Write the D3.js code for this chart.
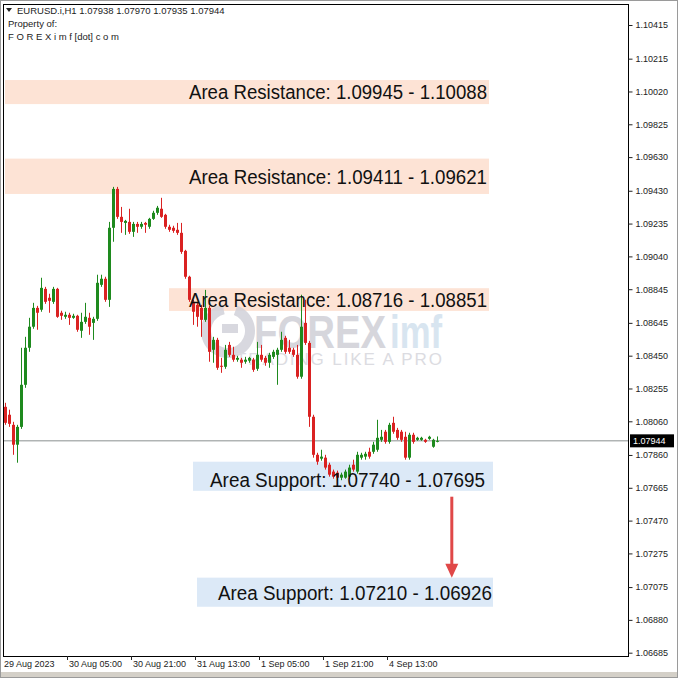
<!DOCTYPE html>
<html><head><meta charset="utf-8">
<script src="https://cdn.jsdelivr.net/npm/d3@7"></script>
<style>html,body{margin:0;padding:0;background:#fff;}svg{display:block;}</style>
</head><body>
<script>
// ---- data ----
const opens = [1.08146,1.08099,1.08039,1.07921,1.08027,1.08277,1.08497,1.08622,1.08734,1.08723,
1.08847,1.08794,1.0877,1.08847,1.08705,1.08681,1.08693,1.08675,1.08687,1.08598,
1.08651,1.08675,1.08645,1.08669,1.08871,1.08907,1.08782,1.0921,1.09441,1.09275,
1.09239,1.09245,1.09186,1.09233,1.09216,1.09239,1.09216,1.09263,1.09299,1.09323,
1.09287,1.09216,1.0921,1.09198,1.0918,1.09073,1.08919,1.0877,1.08752,1.08734,
1.08663,1.08734,1.08485,1.08544,1.0839,1.08384,1.08514,1.08455,1.08426,1.08426,
1.08414,1.0842,1.08426,1.08372,1.08455,1.08437,1.08408,1.08443,1.08455,1.08485,
1.08556,1.08497,1.08485,1.08455,1.08325,1.08645,1.08526,1.08087,1.07861,1.07838,
1.07844,1.07802,1.07761,1.07755,1.07725,1.07725,1.07731,1.07802,1.07761,1.07844,
1.0785,1.07879,1.07879,1.07891,1.0795,1.07998,1.07938,1.08051,1.08009,1.07998,
1.07968,1.07844,1.0798,1.0795,1.0795,1.0795,1.07956,1.07909,1.07938];
const highs = [1.0817,1.08129,1.08057,1.08039,1.08497,1.08562,1.08675,1.08764,1.08746,1.08913,
1.08859,1.08818,1.08859,1.08853,1.08717,1.08711,1.08705,1.08699,1.08693,1.08705,
1.08764,1.08705,1.08681,1.08931,1.08931,1.08919,1.09245,1.09453,1.09453,1.09334,
1.09257,1.09323,1.09245,1.09245,1.09245,1.09245,1.09269,1.09311,1.0934,1.09388,
1.09293,1.09228,1.09222,1.09239,1.09239,1.09079,1.08925,1.08782,1.08764,1.08752,
1.08841,1.08746,1.08562,1.08556,1.08437,1.08514,1.08532,1.08503,1.08449,1.08437,
1.08443,1.08443,1.08437,1.08532,1.08514,1.08449,1.08467,1.08485,1.08497,1.08592,
1.08568,1.08544,1.08497,1.08514,1.08812,1.08782,1.08538,1.08099,1.07873,1.07891,
1.07861,1.07814,1.07773,1.07767,1.07755,1.07773,1.07802,1.07832,1.07879,1.07873,
1.07879,1.07903,1.07938,1.08069,1.08009,1.08009,1.08051,1.08087,1.08021,1.08009,
1.07998,1.07992,1.07992,1.07968,1.07968,1.07956,1.07974,1.07956,1.0797];
const lows = [1.08039,1.08027,1.07861,1.07814,1.08015,1.08259,1.08473,1.0861,1.08604,1.08711,
1.08758,1.08705,1.08758,1.08675,1.08663,1.08669,1.08633,1.08669,1.08592,1.08556,
1.08639,1.08574,1.08544,1.08657,1.08859,1.0877,1.0874,1.09127,1.09263,1.0918,
1.09168,1.09174,1.09156,1.0918,1.09204,1.0918,1.09204,1.09257,1.09287,1.09269,
1.09204,1.09186,1.0918,1.09168,1.09055,1.08907,1.0877,1.08633,1.08622,1.08562,
1.08651,1.08414,1.08408,1.08366,1.08348,1.08372,1.08443,1.08414,1.08414,1.08378,
1.08402,1.08408,1.08354,1.0836,1.08414,1.0839,1.08378,1.08431,1.08277,1.08473,
1.08461,1.08461,1.08443,1.08313,1.08313,1.08514,1.08027,1.07844,1.07802,1.07826,
1.07773,1.07731,1.07719,1.0771,1.0771,1.07719,1.07719,1.07761,1.07749,1.07832,
1.07832,1.07838,1.07867,1.07879,1.07938,1.07927,1.07927,1.07986,1.0795,1.07938,
1.07832,1.07832,1.07927,1.07944,1.07944,1.07932,1.0795,1.07903,1.07935];
const closes = [1.08051,1.08045,1.07921,1.08027,1.08277,1.08497,1.08622,1.08734,1.08705,1.08853,
1.0877,1.08776,1.08847,1.08681,1.08687,1.08693,1.08675,1.08687,1.08604,1.08651,
1.08681,1.08622,1.08669,1.08883,1.08907,1.08782,1.0921,1.09441,1.09275,1.09245,
1.09251,1.09186,1.09233,1.09216,1.09233,1.09228,1.09263,1.09299,1.09329,1.09275,
1.09216,1.09198,1.09192,1.0918,1.09067,1.08919,1.08782,1.08711,1.08681,1.08663,
1.08734,1.08473,1.08544,1.08378,1.08384,1.08485,1.08455,1.08426,1.08437,1.08408,
1.08426,1.08437,1.08366,1.08455,1.08426,1.08408,1.08455,1.08473,1.08485,1.08544,
1.08473,1.08473,1.08455,1.08325,1.08622,1.08526,1.08087,1.07861,1.0782,1.0785,
1.07785,1.07743,1.07731,1.07725,1.07743,1.07761,1.07785,1.07773,1.07861,1.07861,
1.07867,1.0785,1.07921,1.07962,1.07968,1.07938,1.08039,1.07998,1.07962,1.0795,
1.07844,1.0798,1.07938,1.07962,1.07962,1.07938,1.07968,1.0795,1.07944];

const priceTicks = [1.10415,1.10215,1.10020,1.09825,1.09630,1.09430,1.09235,1.09040,1.08845,1.08645,
1.08450,1.08255,1.08060,1.07860,1.07665,1.07470,1.07275,1.07075,1.06880,1.06685];
const timeTickBars = [0,16,32,48,64,80,96];
const timeTickLabels = ["29 Aug 2023","30 Aug 05:00","30 Aug 21:00","31 Aug 13:00","1 Sep 05:00","1 Sep 21:00","4 Sep 13:00"];
const lastPrice = 1.07944;

const zoneLabels = ["Area Resistance: 1.09945 - 1.10088","Area Resistance: 1.09411 - 1.09621","Area Resistance: 1.08716 - 1.08851","Area Support: 1.07740 - 1.07695","Area Support: 1.07210 - 1.06926"];
const zoneLo = [1.09945,1.09411,1.08716,1.07647,1.06958];
const zoneHi = [1.10088,1.09621,1.08851,1.07820,1.07131];
const zoneStartBar = [0,0,41,47,48];
const zoneEndBar = [121,121,121,122,122];
const zoneKind = ["res","res","res","sup","sup"];
const zoneTextRightBar = [120.5,120.5,120.5,120,121.75];
const zoneTextWidth = [298,298,298,275,274];
const zoneTextShift = [0,0.5,0.5,3.5,0.5];
const arrowFrom = [111.7, 1.07612];
const arrowTo = [111.7, 1.07131];

const header = ["EURUSD.i,H1  1.07938 1.07970 1.07935 1.07944","Property of:","F O R E X i m f [dot] c o m"];

// ---- drawing ----
const W = 678, H = 678;
const plotL = 3, plotR = 628, plotT = 4, plotB = 656;
const svg = d3.select("body").append("svg").attr("width", W).attr("height", H);
svg.append("rect").attr("width", W).attr("height", H).attr("fill", "#fff");

const x = d3.scaleLinear().domain([0, 108]).range([5, 437]);
const y = d3.scaleLinear().domain([1.06685, 1.10415]).range([652.7, 25]);

const font = "'Liberation Sans', Arial, sans-serif";

// zones
const zoneData = zoneLabels.map((t, k) => ({t, lo: zoneLo[k], hi: zoneHi[k], s: zoneStartBar[k], e: zoneEndBar[k], kind: zoneKind[k], tr: zoneTextRightBar[k], tw: zoneTextWidth[k], sh: zoneTextShift[k]}));
svg.append("g").selectAll("rect").data(zoneData).join("rect")
  .attr("x", d => x(d.s)).attr("width", d => x(d.e) - x(d.s))
  .attr("y", d => y(d.hi)).attr("height", d => y(d.lo) - y(d.hi))
  .attr("fill", d => d.kind === "res" ? "#fde3d5" : "#dce9f7");

// watermark
const wm = svg.append("g").attr("opacity", 0.85);
wm.append("path")
  .attr("d", d3.arc()({innerRadius: 17, outerRadius: 27, startAngle: 0.35, endAngle: 2 * Math.PI - 0.2}))
  .attr("transform", "translate(228,331)").attr("fill", "#d2d2da");
wm.append("rect").attr("x", 222).attr("y", 324).attr("width", 16).attr("height", 9).attr("fill", "#d2d2da");
wm.append("text").attr("x", 254).attr("y", 348).attr("font-family", font).attr("font-weight", "bold").attr("font-size", 46)
  .attr("textLength", 132).attr("lengthAdjust", "spacingAndGlyphs").attr("fill", "#cfcfd7").text("FOREX");
wm.append("text").attr("x", 390).attr("y", 348).attr("font-family", font).attr("font-weight", "bold").attr("font-size", 46)
  .attr("textLength", 52).attr("lengthAdjust", "spacingAndGlyphs").attr("fill", "#d2e1ee").text("imf");
wm.append("text").attr("x", 236).attr("y", 365).attr("font-family", font).attr("font-size", 17)
  .attr("textLength", 206).attr("lengthAdjust", "spacing").attr("fill", "#d6d6dc").text("TRADING LIKE A PRO");

// current price line
svg.append("line").attr("x1", plotL).attr("x2", plotR).attr("y1", y(lastPrice)).attr("y2", y(lastPrice)).attr("stroke", "#8a9090").attr("stroke-width", 1);

// candles
const bars = opens.map((o, i) => ({i, o, h: highs[i], l: lows[i], c: closes[i]}));
const cg = svg.append("g");
const col = d => d.c >= d.o ? "#1e8a1e" : "#da2222";
cg.selectAll("line").data(bars).join("line")
  .attr("x1", d => Math.round(x(d.i)) + 0.5).attr("x2", d => Math.round(x(d.i)) + 0.5)
  .attr("y1", d => y(d.h)).attr("y2", d => y(d.l))
  .attr("stroke", col).attr("stroke-width", 1);
cg.selectAll("rect").data(bars).join("rect")
  .attr("x", d => Math.round(x(d.i)) - 1).attr("width", 3)
  .attr("y", d => y(Math.max(d.o, d.c))).attr("height", d => Math.max(1, Math.abs(y(d.o) - y(d.c))))
  .attr("fill", col);

// zone texts
svg.append("g").selectAll("text").data(zoneData).join("text")
  .attr("x", d => x(d.tr) - d.tw)
  .attr("y", d => (y(d.hi) + y(d.lo)) / 2 + 7 + d.sh)
  .attr("textLength", d => d.tw).attr("lengthAdjust", "spacingAndGlyphs")
  .attr("font-family", font).attr("font-size", 20).attr("fill", "#111")
  .text(d => d.t);

// arrow
svg.append("line").attr("x1", x(arrowFrom[0])).attr("x2", x(arrowTo[0]))
  .attr("y1", y(arrowFrom[1])).attr("y2", y(arrowTo[1]) - 10)
  .attr("stroke", "#e04848").attr("stroke-width", 3);
svg.append("path")
  .attr("d", `M${x(arrowTo[0]) - 6.5},${y(arrowTo[1]) - 14} L${x(arrowTo[0]) + 6.5},${y(arrowTo[1]) - 14} L${x(arrowTo[0])},${y(arrowTo[1])} Z`)
  .attr("fill", "#e04848");

// frame
svg.append("rect").attr("x", plotL + 0.5).attr("y", plotT + 0.5).attr("width", plotR - plotL).attr("height", plotB - plotT)
  .attr("fill", "none").attr("stroke", "#000");

// price axis
const yAxis = d3.axisRight(y).tickValues(priceTicks).tickSize(4).tickPadding(3).tickFormat(d3.format(".5f"));
const ya = svg.append("g").attr("transform", `translate(${plotR + 0.5},0)`).call(yAxis);
ya.select(".domain").remove();
ya.selectAll("text").attr("font-family", font).attr("font-size", 9).attr("fill", "#222");
ya.selectAll("line").attr("stroke", "#222");

// last price tag
svg.append("rect").attr("x", plotR + 2).attr("y", y(lastPrice) - 6.5).attr("width", 44).attr("height", 13).attr("fill", "#000");
svg.append("text").attr("x", plotR + 5).attr("y", y(lastPrice) + 3.5).attr("font-family", font).attr("font-size", 9).attr("fill", "#fff").text(d3.format(".5f")(lastPrice));

// time axis
const tg = svg.append("g");
tg.selectAll("line").data(timeTickBars.slice(1)).join("line")
  .attr("x1", d => x(d) - 1.5).attr("x2", d => x(d) - 1.5).attr("y1", plotB).attr("y2", plotB + 4).attr("stroke", "#222");
tg.selectAll("text").data(timeTickBars).join("text")
  .attr("x", (d, k) => k === 0 ? 4 : x(d))
  .attr("y", 667).attr("font-family", font).attr("font-size", 9).attr("fill", "#222")
  .text((d, k) => timeTickLabels[k]);

// header
svg.append("path").attr("d", "M6,8 L12,8 L9,12 Z").attr("fill", "#222");
svg.append("g").selectAll("text").data(header).join("text")
  .attr("x", (d, k) => k === 0 ? 17 : 8).attr("y", (d, k) => 14 + k * 13)
  .attr("font-family", font).attr("font-size", 9.5).attr("fill", "#222").text(d => d);

// outer window edges
svg.append("rect").attr("x", 0).attr("y", 672).attr("width", W).attr("height", 6).attr("fill", "#d4d0c8");
svg.append("rect").attr("x", 0.5).attr("y", 0.5).attr("width", W - 1).attr("height", H - 1).attr("fill", "none").attr("stroke", "#9a9a9a");
</script>
</body></html>
